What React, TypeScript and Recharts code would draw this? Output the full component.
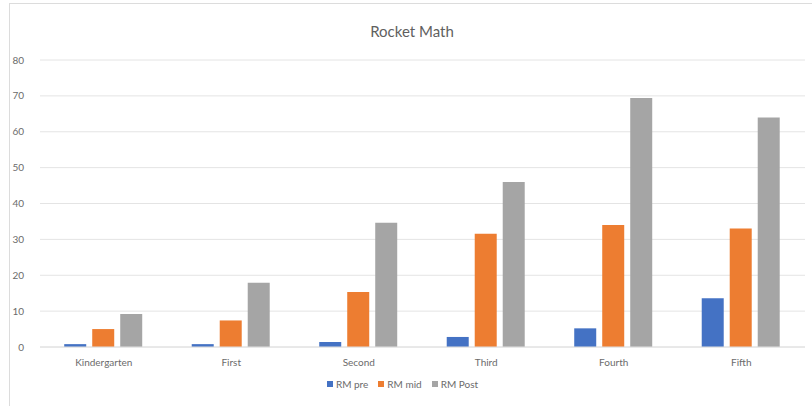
import { Bar, BarChart, CartesianGrid, Legend, XAxis, YAxis } from 'recharts';

const grades = ['Kindergarten', 'First', 'Second', 'Third', 'Fourth', 'Fifth'];
const rmPre = [0.8, 0.8, 1.4, 2.8, 5.2, 13.6];
const rmMid = [5, 7.4, 15.3, 31.6, 34, 33];
const rmPost = [9.2, 17.9, 34.6, 46, 69.4, 64];
const yTicks = [0, 10, 20, 30, 40, 50, 60, 70, 80];

const series = [
  { key: 'pre', name: 'RM pre', color: '#4472C4' },
  { key: 'mid', name: 'RM mid', color: '#ED7D31' },
  { key: 'post', name: 'RM Post', color: '#A5A5A5' },
];

const data = grades.map((grade, i) => ({
  grade,
  pre: rmPre[i],
  mid: rmMid[i],
  post: rmPost[i],
}));

const font = 'Lato, "Open Sans", sans-serif';
const textColor = '#6b6b6b';

function LegendRow() {
  return (
    <div style={{ display: 'flex', justifyContent: 'center', gap: 10, fontFamily: font, fontSize: 10, color: textColor }}>
      {series.map((s) => (
        <span key={s.key} style={{ display: 'flex', alignItems: 'center', gap: 3 }}>
          <span style={{ width: 6, height: 6, background: s.color, display: 'inline-block' }} />
          {s.name}
        </span>
      ))}
    </div>
  );
}

export default function App() {
  return (
    <div style={{ position: 'relative', width: 812, height: 406, overflow: 'hidden', background: '#fff' }}>
      <style>{'body{margin:0}'}</style>
      <div
        style={{
          position: 'absolute',
          left: 9,
          top: 3,
          width: 820,
          height: 420,
          border: '1px solid #dcdcdc',
          boxSizing: 'border-box',
        }}
      />
      <div
        style={{
          position: 'absolute',
          top: 22,
          left: 0,
          width: 824,
          textAlign: 'center',
          fontFamily: font,
          fontSize: 15,
          color: '#5f5f5f',
        }}
      >
        Rocket Math
      </div>
      <div style={{ position: 'absolute', left: 0, top: 0 }}>
        <BarChart
          width={812}
          height={406}
          data={data}
          margin={{ top: 60, right: 7, bottom: 12, left: 0 }}
          barCategoryGap="19%"
          barGap={6}
        >
          <CartesianGrid vertical={false} stroke="#e4e4e4" />
          <XAxis
            dataKey="grade"
            axisLine={{ stroke: '#e0e0e0' }}
            tickLine={false}
            tick={{ fill: textColor, fontSize: 10, fontFamily: font }}
            tickMargin={6}
            height={22}
          />
          <YAxis
            domain={[0, 80]}
            ticks={yTicks}
            axisLine={false}
            tickLine={false}
            tick={{ fill: textColor, fontSize: 10, fontFamily: font }}
            tickMargin={10}
            width={40}
          />
          <Legend
            verticalAlign="bottom"
            height={25}
            wrapperStyle={{ top: 378, bottom: 'auto' }}
            content={() => <LegendRow />}
          />
          {series.map((s) => (
            <Bar key={s.key} dataKey={s.key} name={s.name} fill={s.color} isAnimationActive={false} />
          ))}
        </BarChart>
      </div>
    </div>
  );
}
